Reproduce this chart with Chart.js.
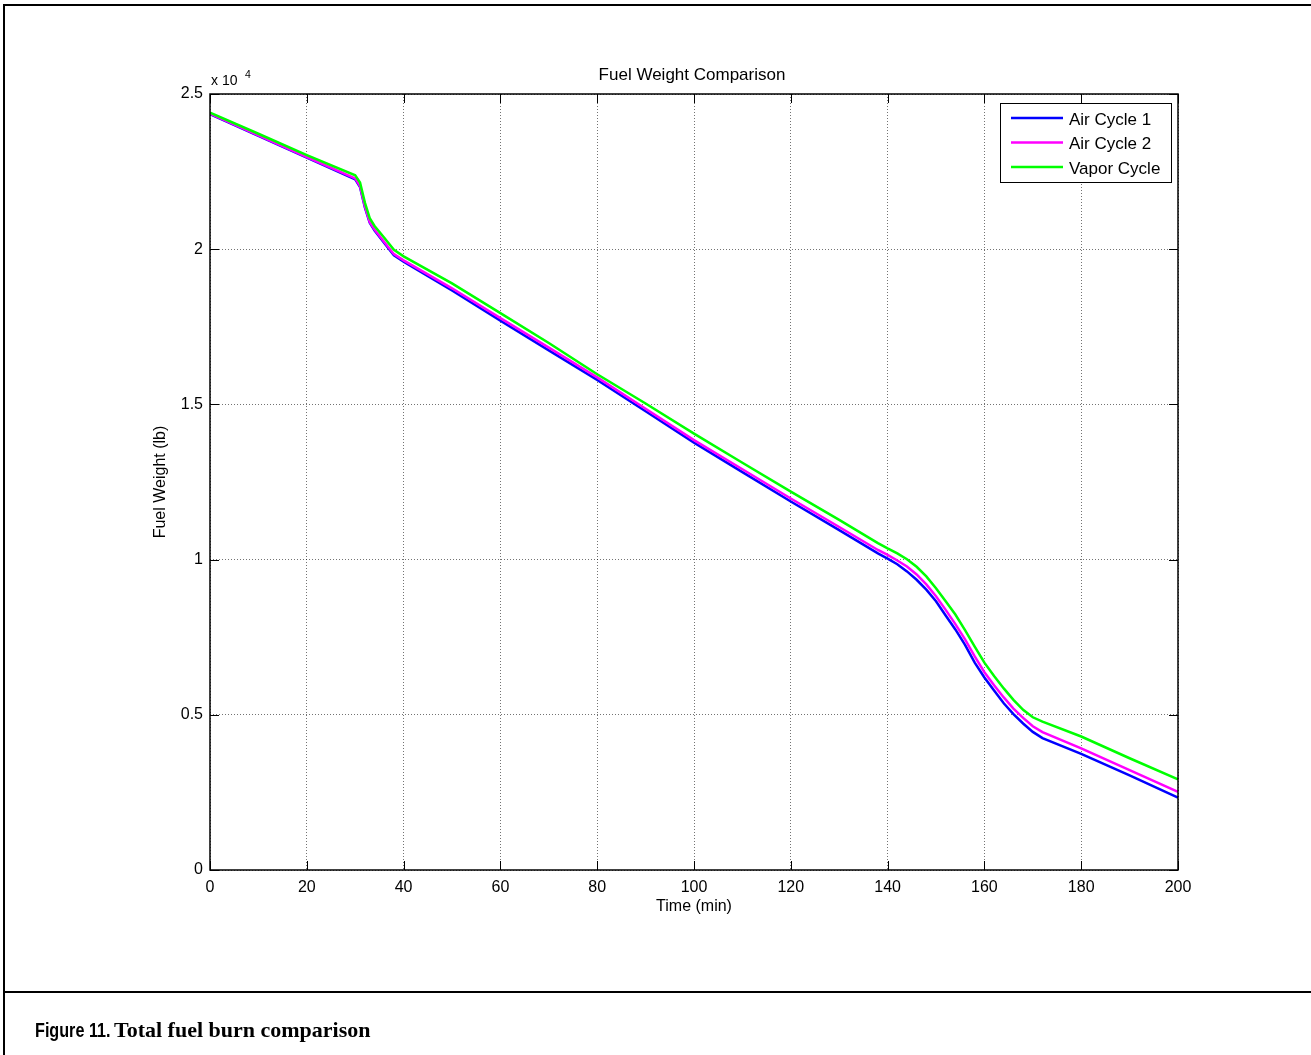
<!DOCTYPE html>
<html>
<head>
<meta charset="utf-8">
<title>Fuel Weight Comparison</title>
<script src="https://cdn.jsdelivr.net/npm/chart.js@4.4.1/dist/chart.umd.min.js"></script>
<style>
  body { margin: 0; background: #fff; }
  #page { position: relative; width: 1311px; height: 1055px; overflow: hidden; }
  #fuelChart { position: absolute; left: 0; top: 0; }
  .rule { position: absolute; background: #000; }
  .cap { position: absolute; top: 1019px; line-height: 21px; font-weight: bold; white-space: nowrap; color: #000; }
  #capLabel { left: 35px; font-family: "Liberation Sans", Arial, sans-serif; font-size: 21px; transform: scaleX(0.77); transform-origin: left center; }
  #capText { left: 114px; font-family: "Liberation Serif", "Times New Roman", serif; font-size: 22px; }
</style>
</head>
<body>
<div id="page">
  <canvas id="fuelChart" width="1311" height="1055"></canvas>
  <!-- figure frame -->
  <div class="rule" style="left:3px; top:4px; width:1308px; height:2px;"></div>
  <div class="rule" style="left:3px; top:4px; width:2px; height:1051px;"></div>
  <div class="rule" style="left:3px; top:991px; width:1308px; height:2px;"></div>
  <div class="cap" id="capLabel">Figure 11.</div>
  <div class="cap" id="capText">Total fuel burn comparison</div>
</div>
<script>
// time axis (min)
const time = [0, 10, 20, 30, 31, 32, 33, 34, 36, 38, 40, 50, 60, 70, 80, 90, 100, 110, 120, 130,
  138, 140, 142, 144, 146, 148, 150, 152, 154, 156, 158, 160, 162, 164, 166, 168, 170, 172, 180, 190, 200];

// fuel weight (lb)
const airCycle1 = [24350, 23650, 22950, 22250, 22000, 21350, 20850, 20600, 20200, 19800, 19600, 18670, 17700, 16740, 15790, 14780, 13770, 12820, 11870, 10950,
  10200, 10030, 9850, 9620, 9350, 9030, 8660, 8200, 7750, 7250, 6680, 6200, 5780, 5370, 5020, 4720, 4450, 4250, 3740, 3050, 2330];
const airCycle2 = [24370, 23670, 22970, 22280, 22030, 21380, 20880, 20630, 20230, 19840, 19640, 18740, 17780, 16830, 15870, 14860, 13850, 12910, 11970, 11050,
  10310, 10150, 9970, 9780, 9520, 9200, 8820, 8380, 7920, 7430, 6880, 6370, 5950, 5560, 5200, 4900, 4630, 4440, 3920, 3220, 2520];
const vaporCycle = [24400, 23720, 23030, 22380, 22150, 21500, 21000, 20750, 20370, 19980, 19770, 18900, 17940, 16980, 15970, 15030, 14060, 13120, 12190, 11280,
  10530, 10360, 10200, 10010, 9770, 9460, 9080, 8660, 8230, 7730, 7200, 6680, 6250, 5850, 5480, 5160, 4920, 4780, 4300, 3600, 2920];

const seriesNames = ['Air Cycle 1', 'Air Cycle 2', 'Vapor Cycle'];
const seriesColors = ['#0000ff', '#ff00ff', '#00ff00'];
const xTicks = [0, 20, 40, 60, 80, 100, 120, 140, 160, 180, 200];
const yTicks = [0, 5000, 10000, 15000, 20000, 25000];

Chart.defaults.font.family = '"Liberation Sans", Arial, sans-serif';
Chart.defaults.font.size = 16;
Chart.defaults.color = '#000';

function toPoints(values) {
  return values.map((v, i) => ({ x: time[i], y: v }));
}

// MATLAB style axes: box, inward ticks, labels, exponent and legend
const matlabAxes = {
  id: 'matlabAxes',
  afterDraw(chart) {
    const ctx = chart.ctx;
    const a = chart.chartArea;
    const xs = chart.scales.x;
    const ys = chart.scales.y;
    const tl = 9;
    ctx.save();

    // inward tick marks on all four sides
    ctx.strokeStyle = '#000';
    ctx.lineWidth = 1;
    ctx.beginPath();
    xTicks.forEach(v => {
      const px = Math.round(xs.getPixelForValue(v)) + 0.5;
      ctx.moveTo(px, a.bottom); ctx.lineTo(px, a.bottom - tl);
      ctx.moveTo(px, a.top); ctx.lineTo(px, a.top + tl);
    });
    yTicks.forEach(v => {
      const py = Math.round(ys.getPixelForValue(v)) + 0.5;
      ctx.moveTo(a.left, py); ctx.lineTo(a.left + tl, py);
      ctx.moveTo(a.right, py); ctx.lineTo(a.right - tl, py);
    });
    ctx.stroke();

    // axes box
    ctx.lineWidth = 1.5;
    ctx.strokeRect(a.left, a.top, a.right - a.left, a.bottom - a.top);

    // title and axis labels
    ctx.fillStyle = '#000';
    ctx.textAlign = 'center';
    ctx.textBaseline = 'middle';
    ctx.font = '17px "Liberation Sans", Arial, sans-serif';
    ctx.fillText('Fuel Weight Comparison', (a.left + a.right) / 2 - 2, 75);
    ctx.font = '16px "Liberation Sans", Arial, sans-serif';
    ctx.fillText('Time (min)', (a.left + a.right) / 2, 907);
    ctx.save();
    ctx.translate(161, (a.top + a.bottom) / 2);
    ctx.rotate(-Math.PI / 2);
    ctx.fillText('Fuel Weight (lb)', 0, 0);
    ctx.restore();

    // exponent label
    ctx.textAlign = 'left';
    ctx.textBaseline = 'alphabetic';
    ctx.font = '14px "Liberation Sans", Arial, sans-serif';
    ctx.fillText('x 10', a.left + 1, 85);
    ctx.font = '10.5px "Liberation Sans", Arial, sans-serif';
    ctx.fillText('4', a.left + 35, 78);

    // legend box
    const lx = 1000, ly = 103, lw = 171, lh = 79;
    ctx.fillStyle = '#fff';
    ctx.fillRect(lx, ly, lw, lh);
    ctx.lineWidth = 1;
    ctx.strokeStyle = '#000';
    ctx.strokeRect(lx + 0.5, ly + 0.5, lw, lh);
    ctx.font = '17px "Liberation Sans", Arial, sans-serif';
    ctx.textBaseline = 'middle';
    chart.data.datasets.forEach((ds, i) => {
      const rowY = 118 + i * 24.5;
      ctx.strokeStyle = ds.borderColor;
      ctx.lineWidth = 2.5;
      ctx.beginPath();
      ctx.moveTo(1011, rowY);
      ctx.lineTo(1063, rowY);
      ctx.stroke();
      ctx.fillStyle = '#000';
      ctx.fillText(ds.label, 1069, rowY + 2);
    });
    ctx.restore();
  }
};

const fuelChart = new Chart(document.getElementById('fuelChart'), {
  type: 'line',
  data: {
    // later series drawn on top, like the original plot
    datasets: [airCycle1, airCycle2, vaporCycle].map((vals, i) => ({
      label: seriesNames[i],
      data: toPoints(vals),
      borderColor: seriesColors[i],
      backgroundColor: seriesColors[i],
      borderWidth: 2.5,
      pointRadius: 0,
      tension: 0,
      fill: false,
      order: 2 - i
    }))
  },
  options: {
    responsive: false,
    animation: false,
    layout: { padding: { left: 0, top: 94, right: 133, bottom: 145 } },
    plugins: {
      legend: { display: false },
      title: { display: false },
      tooltip: { enabled: false }
    },
    scales: {
      x: {
        type: 'linear',
        min: 0,
        max: 200,
        afterFit: scale => { scale.height = 40; },
        afterBuildTicks: scale => { scale.ticks = xTicks.map(v => ({ value: v })); },
        ticks: { padding: 8, maxRotation: 0, autoSkip: false, callback: v => v },
        grid: { color: 'rgba(0,0,0,0.55)', lineWidth: 1, drawTicks: false },
        border: { display: false, dash: [1, 2] }
      },
      y: {
        type: 'linear',
        min: 0,
        max: 25000,
        afterFit: scale => { scale.width = 210; },
        afterBuildTicks: scale => { scale.ticks = yTicks.map(v => ({ value: v })); },
        ticks: { padding: 7, autoSkip: false, callback: v => v / 10000 },
        grid: { color: 'rgba(0,0,0,0.55)', lineWidth: 1, drawTicks: false },
        border: { display: false, dash: [1, 2] }
      }
    }
  },
  plugins: [matlabAxes]
});
</script>
</body>
</html>
